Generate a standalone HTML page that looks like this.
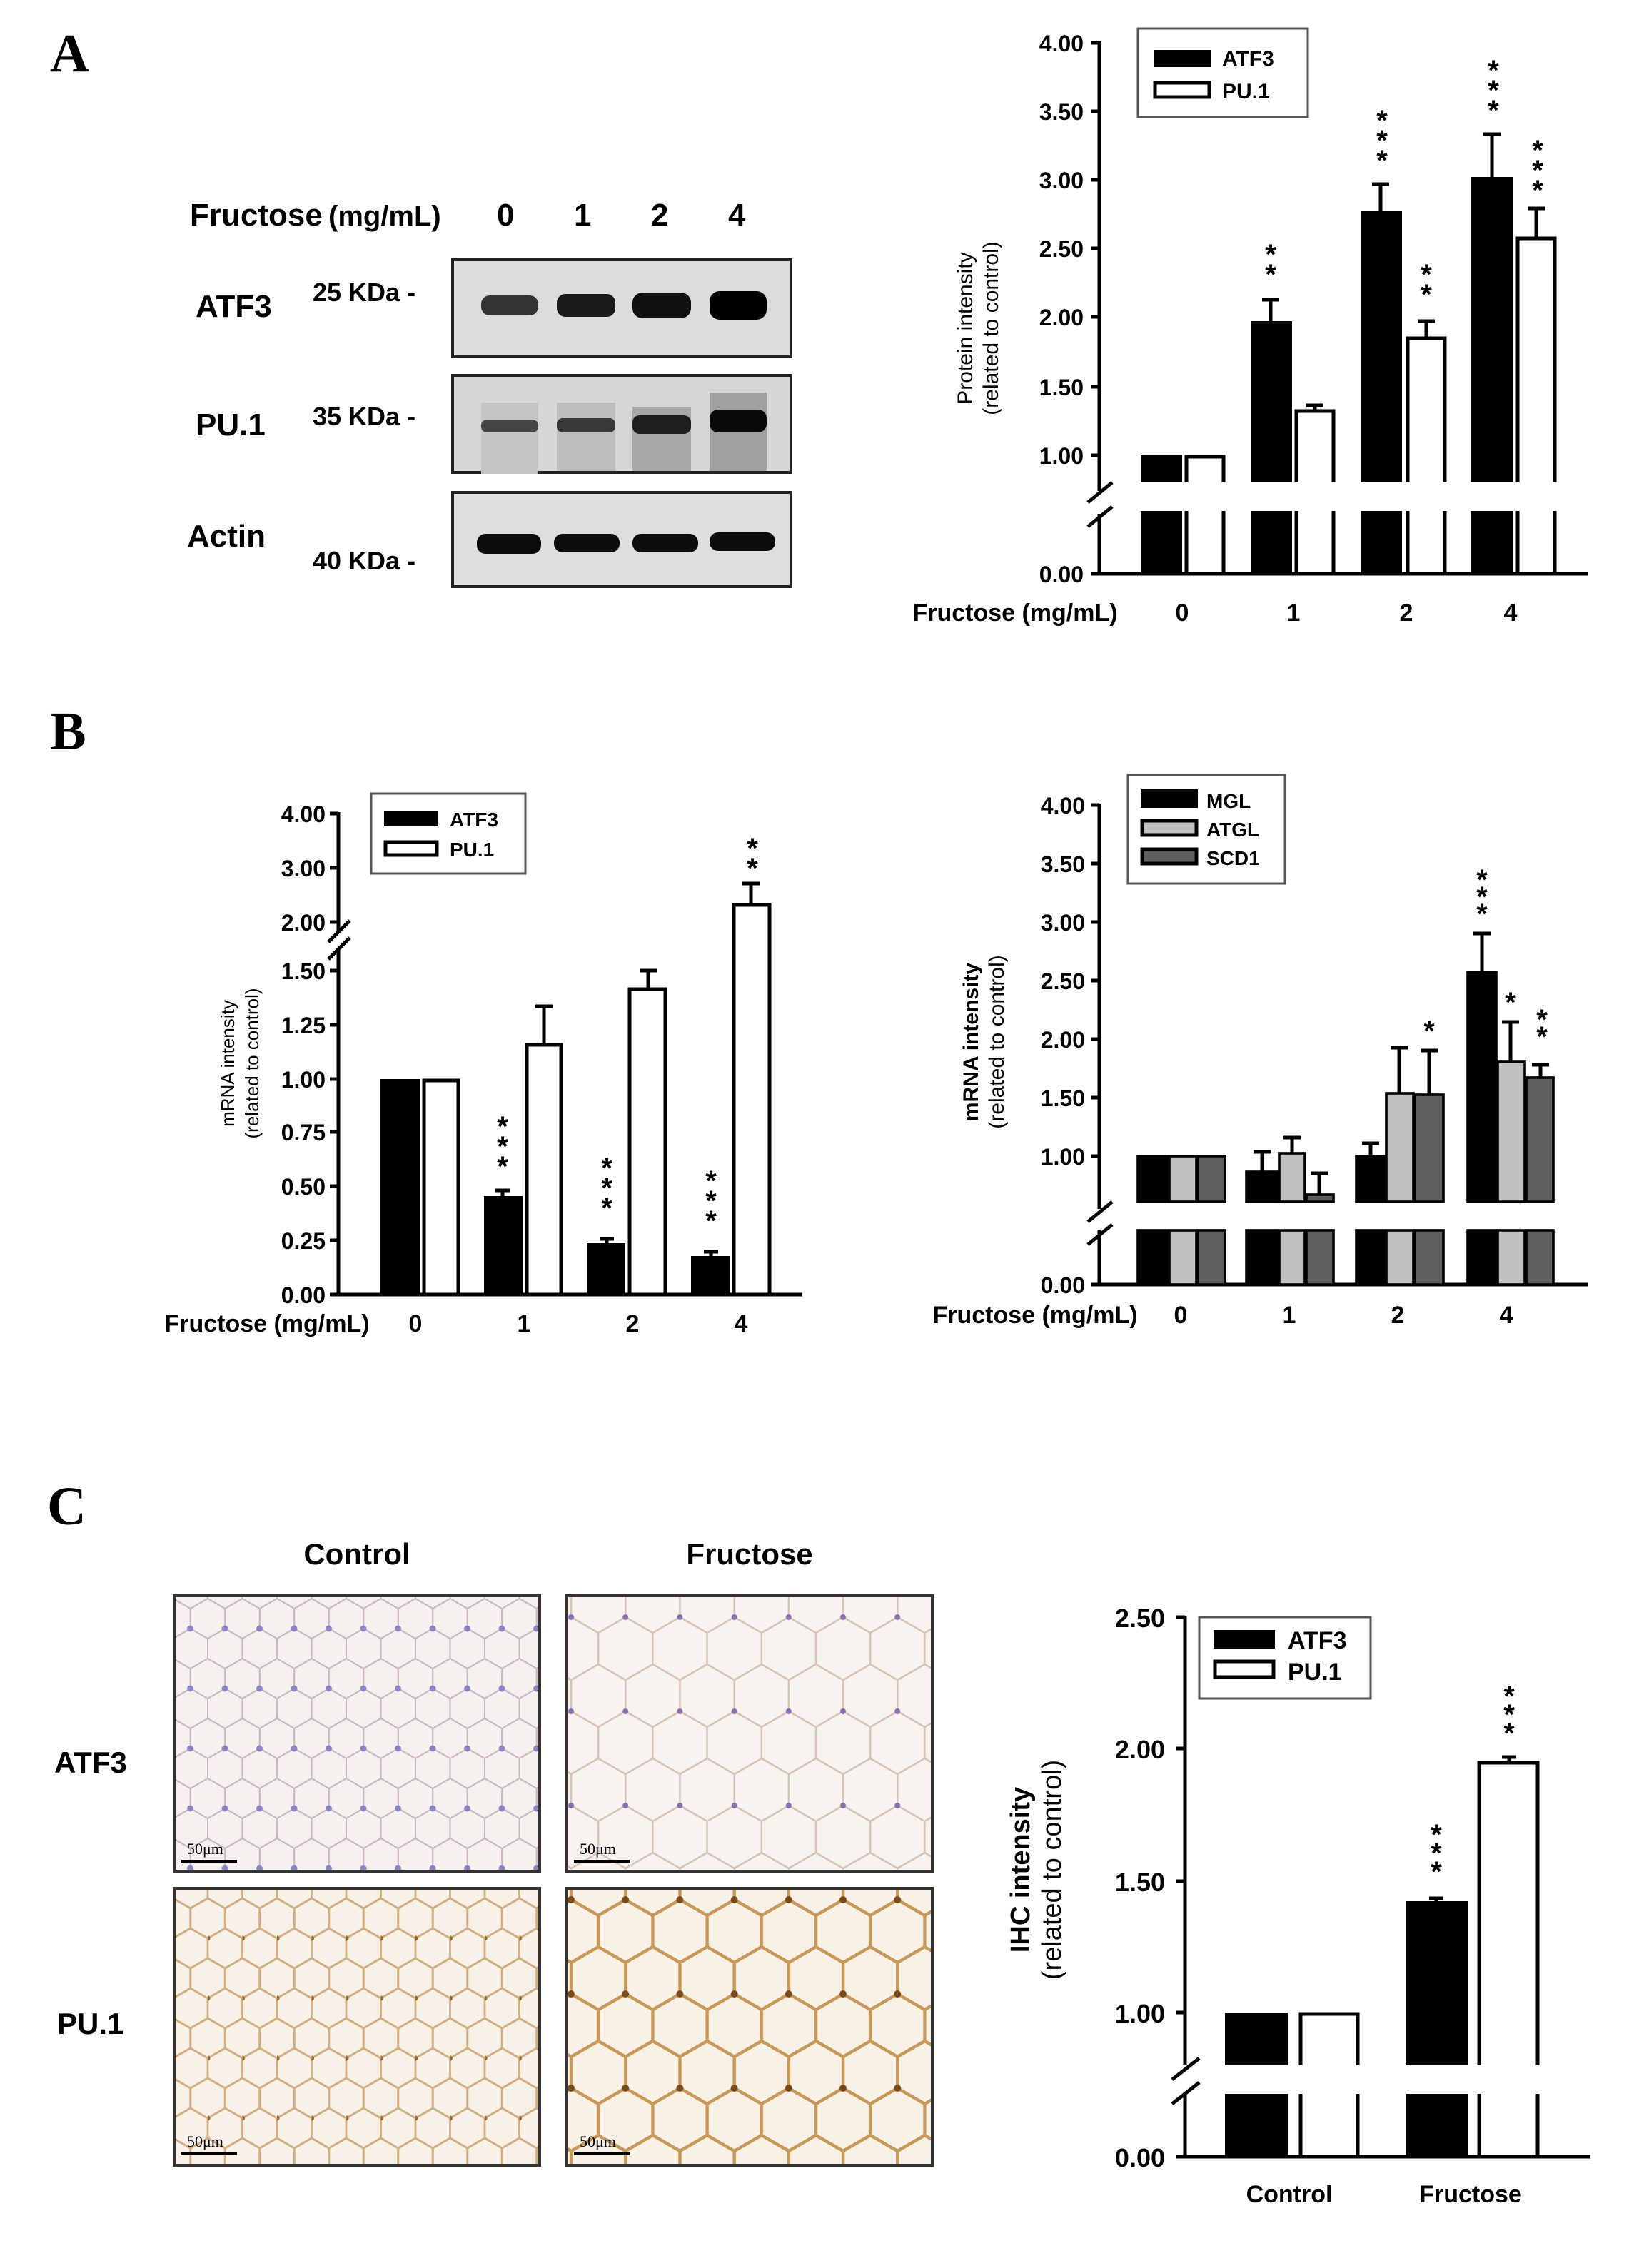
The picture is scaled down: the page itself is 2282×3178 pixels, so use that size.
<!DOCTYPE html>
<html><head><meta charset="utf-8"><style>
html,body{margin:0;padding:0;background:#fff}
svg{display:block}
text{font-family:"Liberation Sans",sans-serif}
.t{font-size:16px;font-weight:bold}
.s{font-size:20px;font-weight:bold}
</style></head><body>
<svg width="2282" height="3178" viewBox="0 0 1141 1589" xmlns="http://www.w3.org/2000/svg">
<defs>
<pattern id="p1" width="24.25" height="42" patternUnits="userSpaceOnUse">
<rect width="24.25" height="42" fill="#f5f1ef"/>
<g fill="none" stroke="#c8b8c0" stroke-width="1">
<polygon points="12.12,7 0,14 -12.12,7 -12.12,-7 0,-14 12.12,-7"/>
<polygon transform="translate(24.25,0)" points="12.12,7 0,14 -12.12,7 -12.12,-7 0,-14 12.12,-7"/>
<polygon transform="translate(12.12,21)" points="12.12,7 0,14 -12.12,7 -12.12,-7 0,-14 12.12,-7"/>
<polygon transform="translate(0,42)" points="12.12,7 0,14 -12.12,7 -12.12,-7 0,-14 12.12,-7"/>
<polygon transform="translate(24.25,42)" points="12.12,7 0,14 -12.12,7 -12.12,-7 0,-14 12.12,-7"/>
</g>
<circle cx="12" cy="7" r="2.2" fill="#8a84c8"/>
</pattern>
<pattern id="p2" width="38.1" height="66" patternUnits="userSpaceOnUse">
<rect width="38.1" height="66" fill="#f7f3ef"/>
<g fill="none" stroke="#d6c2b6" stroke-width="1.2">
<polygon points="19.05,11 0,22 -19.05,11 -19.05,-11 0,-22 19.05,-11"/>
<polygon transform="translate(38.1,0)" points="19.05,11 0,22 -19.05,11 -19.05,-11 0,-22 19.05,-11"/>
<polygon transform="translate(19.05,33)" points="19.05,11 0,22 -19.05,11 -19.05,-11 0,-22 19.05,-11"/>
<polygon transform="translate(0,66)" points="19.05,11 0,22 -19.05,11 -19.05,-11 0,-22 19.05,-11"/>
<polygon transform="translate(38.1,66)" points="19.05,11 0,22 -19.05,11 -19.05,-11 0,-22 19.05,-11"/>
</g>
<circle cx="19" cy="11" r="2" fill="#8a70b0"/>
</pattern>
<pattern id="p3" width="24.25" height="42" patternUnits="userSpaceOnUse">
<rect width="24.25" height="42" fill="#f7f1e8"/>
<g fill="none" stroke="#d2ad80" stroke-width="1.4">
<polygon points="12.12,7 0,14 -12.12,7 -12.12,-7 0,-14 12.12,-7"/>
<polygon transform="translate(24.25,0)" points="12.12,7 0,14 -12.12,7 -12.12,-7 0,-14 12.12,-7"/>
<polygon transform="translate(12.12,21)" points="12.12,7 0,14 -12.12,7 -12.12,-7 0,-14 12.12,-7"/>
<polygon transform="translate(0,42)" points="12.12,7 0,14 -12.12,7 -12.12,-7 0,-14 12.12,-7"/>
<polygon transform="translate(24.25,42)" points="12.12,7 0,14 -12.12,7 -12.12,-7 0,-14 12.12,-7"/>
</g>
<circle cx="0" cy="14" r="1.8" fill="#9a6a30"/>
</pattern>
<pattern id="p4" width="38.1" height="66" patternUnits="userSpaceOnUse">
<rect width="38.1" height="66" fill="#f8f1e6"/>
<g fill="none" stroke="#c99858" stroke-width="2.2">
<polygon points="19.05,11 0,22 -19.05,11 -19.05,-11 0,-22 19.05,-11"/>
<polygon transform="translate(38.1,0)" points="19.05,11 0,22 -19.05,11 -19.05,-11 0,-22 19.05,-11"/>
<polygon transform="translate(19.05,33)" points="19.05,11 0,22 -19.05,11 -19.05,-11 0,-22 19.05,-11"/>
<polygon transform="translate(0,66)" points="19.05,11 0,22 -19.05,11 -19.05,-11 0,-22 19.05,-11"/>
<polygon transform="translate(38.1,66)" points="19.05,11 0,22 -19.05,11 -19.05,-11 0,-22 19.05,-11"/>
</g>
<circle cx="19" cy="11" r="2.5" fill="#7a4a18"/>
</pattern>
</defs>

<!-- ===== Panel A ===== -->
<text x="35" y="50" font-family="Liberation Serif,serif" font-size="38" font-weight="bold" style="font-family:'Liberation Serif',serif">A</text>
<text x="133" y="158" font-size="22" font-weight="bold">Fructose</text>
<text x="230" y="158" font-size="20" font-weight="bold">(mg/mL)</text>
<text x="348" y="158" font-size="22" font-weight="bold">0</text>
<text x="402" y="158" font-size="22" font-weight="bold">1</text>
<text x="456" y="158" font-size="22" font-weight="bold">2</text>
<text x="510" y="158" font-size="22" font-weight="bold">4</text>
<text x="137" y="222" font-size="22" font-weight="bold">ATF3</text>
<text x="219" y="211" font-size="18" font-weight="bold">25 KDa -</text>
<text x="137" y="305" font-size="22" font-weight="bold">PU.1</text>
<text x="219" y="298" font-size="18" font-weight="bold">35 KDa -</text>
<text x="131" y="383" font-size="22" font-weight="bold">Actin</text>
<text x="219" y="399" font-size="18" font-weight="bold">40 KDa -</text>
<rect x="317" y="182" width="237" height="68" fill="#dcdcdc" stroke="#222" stroke-width="2"/>
<g fill="#111">
<rect x="337" y="207" width="40" height="14" rx="6" fill="#333"/>
<rect x="390" y="206" width="41" height="16" rx="6" fill="#1a1a1a"/>
<rect x="443" y="205" width="41" height="18" rx="7"/>
<rect x="497" y="204" width="40" height="20" rx="7" fill="#000"/>
</g>
<rect x="317" y="263" width="237" height="68" fill="#d6d6d6" stroke="#222" stroke-width="2"/>
<g>
<rect x="337" y="282" width="40" height="50" fill="#c4c4c4"/>
<rect x="390" y="282" width="41" height="48" fill="#bdbdbd"/>
<rect x="443" y="285" width="41" height="45" fill="#a8a8a8"/>
<rect x="497" y="275" width="40" height="55" fill="#a0a0a0"/>
<rect x="337" y="294" width="40" height="9" rx="4" fill="#444"/>
<rect x="390" y="293" width="41" height="10" rx="4" fill="#383838"/>
<rect x="443" y="291" width="41" height="13" rx="5" fill="#1e1e1e"/>
<rect x="497" y="287" width="40" height="16" rx="6" fill="#0a0a0a"/>
</g>
<rect x="317" y="345" width="237" height="66" fill="#dedede" stroke="#222" stroke-width="2"/>
<g fill="#0d0d0d">
<rect x="334" y="374" width="45" height="14" rx="6"/>
<rect x="388" y="374" width="46" height="13" rx="6"/>
<rect x="443" y="374" width="46" height="13" rx="6"/>
<rect x="497" y="373" width="46" height="13" rx="6"/>
</g>

<!-- Chart A -->
<g stroke="#000" stroke-width="2.5" fill="none">
<line x1="770" y1="29" x2="770" y2="344"/>
<line x1="770" y1="360" x2="770" y2="403"/>
<line x1="762" y1="352" x2="779" y2="338"/>
<line x1="762" y1="369" x2="779" y2="355"/>
<line x1="769" y1="402" x2="1112" y2="402"/>
<line x1="764" y1="30" x2="770" y2="30"/><line x1="764" y1="78" x2="770" y2="78"/><line x1="764" y1="126" x2="770" y2="126"/><line x1="764" y1="174" x2="770" y2="174"/><line x1="764" y1="222" x2="770" y2="222"/><line x1="764" y1="271" x2="770" y2="271"/><line x1="764" y1="319" x2="770" y2="319"/><line x1="764" y1="402" x2="770" y2="402"/>
</g>
<g class="t" text-anchor="end">
<text x="759" y="36">4.00</text><text x="759" y="84">3.50</text><text x="759" y="132">3.00</text><text x="759" y="180">2.50</text><text x="759" y="228">2.00</text><text x="759" y="277">1.50</text><text x="759" y="325">1.00</text><text x="759" y="408">0.00</text>
</g>
<g fill="#000">
<rect x="799" y="319" width="29" height="19"/><rect x="799" y="358" width="29" height="44"/>
<rect x="876" y="225" width="29" height="113"/><rect x="876" y="358" width="29" height="44"/>
<rect x="953" y="148" width="29" height="190"/><rect x="953" y="358" width="29" height="44"/>
<rect x="1030" y="124" width="30" height="214"/><rect x="1030" y="358" width="30" height="44"/>
</g>
<g stroke="#000" stroke-width="2.5" fill="none">
<path d="M831,338 V320 H857 V338 M831,358 V402 M857,358 V402"/>
<path d="M908,338 V288 H934 V338 M908,358 V402 M934,358 V402"/>
<path d="M986,338 V237 H1012 V338 M986,358 V402 M1012,358 V402"/>
<path d="M1063,338 V167 H1089 V338 M1063,358 V402 M1089,358 V402"/>
<path d="M890,225 V210 M884,210 H896"/>
<path d="M967,148 V129 M961,129 H973"/>
<path d="M1045,124 V94 M1039,94 H1051"/>
<path d="M921,288 V284 M915,284 H927"/>
<path d="M999,237 V225 M993,225 H1005"/>
<path d="M1076,167 V146 M1070,146 H1082"/>
</g>
<g class="s" text-anchor="middle">
<text x="890" y="185">*</text><text x="890" y="199">*</text>
<text x="968" y="91">*</text><text x="968" y="105">*</text><text x="968" y="119">*</text>
<text x="999" y="199">*</text><text x="999" y="213">*</text>
<text x="1046" y="56">*</text><text x="1046" y="70">*</text><text x="1046" y="84">*</text>
<text x="1077" y="112">*</text><text x="1077" y="126">*</text><text x="1077" y="140">*</text>
</g>
<rect x="797" y="20" width="119" height="62" fill="#fff" stroke="#555" stroke-width="1.5"/>
<rect x="808" y="35" width="40" height="12" fill="#000"/>
<rect x="809" y="58" width="38" height="10" fill="#fff" stroke="#000" stroke-width="2.5"/>
<text x="856" y="46" font-size="15" font-weight="bold">ATF3</text>
<text x="856" y="69" font-size="15" font-weight="bold">PU.1</text>
<text transform="translate(681,230) rotate(-90)" text-anchor="middle" font-size="15">Protein intensity</text>
<text transform="translate(699,230) rotate(-90)" text-anchor="middle" font-size="15">(related to control)</text>
<g font-size="17" font-weight="bold" text-anchor="middle">
<text x="711" y="435">Fructose (mg/mL)</text>
<text x="828" y="435">0</text><text x="906" y="435">1</text><text x="985" y="435">2</text><text x="1058" y="435">4</text>
</g>

<!-- ===== Panel B ===== -->
<text x="35" y="525" font-size="38" font-weight="bold" style="font-family:'Liberation Serif',serif">B</text>
<!-- B left -->
<g stroke="#000" stroke-width="2.5" fill="none">
<line x1="237" y1="569" x2="237" y2="652"/>
<line x1="237" y1="665" x2="237" y2="908"/>
<line x1="230" y1="660" x2="245" y2="645"/>
<line x1="230" y1="672" x2="245" y2="657"/>
<line x1="236" y1="907" x2="562" y2="907"/>
<line x1="231" y1="570" x2="237" y2="570"/><line x1="231" y1="608" x2="237" y2="608"/><line x1="231" y1="646" x2="237" y2="646"/>
<line x1="231" y1="680" x2="237" y2="680"/><line x1="231" y1="718" x2="237" y2="718"/><line x1="231" y1="756" x2="237" y2="756"/><line x1="231" y1="793" x2="237" y2="793"/><line x1="231" y1="831" x2="237" y2="831"/><line x1="231" y1="869" x2="237" y2="869"/><line x1="231" y1="907" x2="237" y2="907"/>
</g>
<g class="t" text-anchor="end">
<text x="228" y="576">4.00</text><text x="228" y="614">3.00</text><text x="228" y="652">2.00</text>
<text x="228" y="686">1.50</text><text x="228" y="724">1.25</text><text x="228" y="762">1.00</text><text x="228" y="799">0.75</text><text x="228" y="837">0.50</text><text x="228" y="875">0.25</text><text x="228" y="913">0.00</text>
</g>
<g fill="#000">
<rect x="266" y="756" width="28" height="151"/>
<rect x="339" y="838" width="27" height="69"/>
<rect x="411" y="871" width="27" height="36"/>
<rect x="484" y="880" width="27" height="27"/>
</g>
<g stroke="#000" stroke-width="2.5" fill="none">
<path d="M297,907 V757 H321 V907"/>
<path d="M369,907 V732 H393 V907"/>
<path d="M441,907 V693 H466 V907"/>
<path d="M514,907 V634 H539 V907"/>
<path d="M352,838 V834 M347,834 H357"/>
<path d="M425,871 V868 M420,868 H430"/>
<path d="M498,880 V877 M493,877 H503"/>
<path d="M381,732 V705 M375,705 H387"/>
<path d="M454,693 V680 M448,680 H460"/>
<path d="M526,634 V619 M520,619 H532"/>
</g>
<g class="s" text-anchor="middle">
<text x="352" y="796">*</text><text x="352" y="810">*</text><text x="352" y="824">*</text>
<text x="425" y="825">*</text><text x="425" y="839">*</text><text x="425" y="853">*</text>
<text x="498" y="834">*</text><text x="498" y="848">*</text><text x="498" y="862">*</text>
<text x="527" y="601">*</text><text x="527" y="615">*</text>
</g>
<rect x="260" y="556" width="108" height="56" fill="#fff" stroke="#555" stroke-width="1.5"/>
<rect x="269" y="568" width="38" height="11" fill="#000"/>
<rect x="270" y="590" width="36" height="9" fill="#fff" stroke="#000" stroke-width="2.5"/>
<text x="315" y="579" font-size="14" font-weight="bold">ATF3</text>
<text x="315" y="600" font-size="14" font-weight="bold">PU.1</text>
<text transform="translate(164,745) rotate(-90)" text-anchor="middle" font-size="13">mRNA intensity</text>
<text transform="translate(181,745) rotate(-90)" text-anchor="middle" font-size="13">(related to control)</text>
<g font-size="17" font-weight="bold" text-anchor="middle">
<text x="187" y="933">Fructose (mg/mL)</text>
<text x="291" y="933">0</text><text x="367" y="933">1</text><text x="443" y="933">2</text><text x="519" y="933">4</text>
</g>

<!-- B right -->
<g stroke="#000" stroke-width="2.5" fill="none">
<line x1="770" y1="563" x2="770" y2="847"/>
<line x1="770" y1="862" x2="770" y2="901"/>
<line x1="762" y1="856" x2="779" y2="842"/>
<line x1="762" y1="872" x2="779" y2="858"/>
<line x1="769" y1="900" x2="1112" y2="900"/>
<line x1="764" y1="564" x2="770" y2="564"/><line x1="764" y1="605" x2="770" y2="605"/><line x1="764" y1="646" x2="770" y2="646"/><line x1="764" y1="687" x2="770" y2="687"/><line x1="764" y1="728" x2="770" y2="728"/><line x1="764" y1="769" x2="770" y2="769"/><line x1="764" y1="810" x2="770" y2="810"/><line x1="764" y1="900" x2="770" y2="900"/>
</g>
<g class="t" text-anchor="end">
<text x="760" y="570">4.00</text><text x="760" y="611">3.50</text><text x="760" y="652">3.00</text><text x="760" y="693">2.50</text><text x="760" y="734">2.00</text><text x="760" y="775">1.50</text><text x="760" y="816">1.00</text><text x="760" y="906">0.00</text>
</g>
<g stroke="#000" stroke-width="1.8">
<!-- group 0 -->
<rect x="797" y="810" width="21" height="32" fill="#000"/>
<rect x="819" y="810" width="19" height="32" fill="#c0c0c0"/>
<rect x="839" y="810" width="19" height="32" fill="#5e5e5e"/>
<!-- group 1 -->
<rect x="873" y="821" width="22" height="21" fill="#000"/>
<rect x="896" y="808" width="18" height="34" fill="#c0c0c0"/>
<rect x="915" y="837" width="19" height="5" fill="#5e5e5e"/>
<!-- group 2 -->
<rect x="950" y="810" width="20" height="32" fill="#000"/>
<rect x="971" y="766" width="19" height="76" fill="#c0c0c0"/>
<rect x="991" y="767" width="20" height="75" fill="#5e5e5e"/>
<!-- group 4 -->
<rect x="1028" y="681" width="20" height="161" fill="#000"/>
<rect x="1049" y="744" width="19" height="98" fill="#c0c0c0"/>
<rect x="1069" y="755" width="19" height="87" fill="#5e5e5e"/>
<!-- lower -->
<rect x="797" y="862" width="21" height="38" fill="#000"/><rect x="819" y="862" width="19" height="38" fill="#c0c0c0"/><rect x="839" y="862" width="19" height="38" fill="#5e5e5e"/>
<rect x="873" y="862" width="22" height="38" fill="#000"/><rect x="896" y="862" width="18" height="38" fill="#c0c0c0"/><rect x="915" y="862" width="19" height="38" fill="#5e5e5e"/>
<rect x="950" y="862" width="20" height="38" fill="#000"/><rect x="971" y="862" width="19" height="38" fill="#c0c0c0"/><rect x="991" y="862" width="20" height="38" fill="#5e5e5e"/>
<rect x="1028" y="862" width="20" height="38" fill="#000"/><rect x="1049" y="862" width="19" height="38" fill="#c0c0c0"/><rect x="1069" y="862" width="19" height="38" fill="#5e5e5e"/>
</g>
<g stroke="#000" stroke-width="2.5" fill="none">
<path d="M884,821 V807 M878,807 H890"/>
<path d="M905,808 V797 M899,797 H911"/>
<path d="M924,837 V822 M918,822 H930"/>
<path d="M960,810 V801 M954,801 H966"/>
<path d="M980,766 V734 M974,734 H986"/>
<path d="M1001,767 V736 M995,736 H1007"/>
<path d="M1038,681 V654 M1032,654 H1044"/>
<path d="M1058,744 V716 M1052,716 H1064"/>
<path d="M1079,755 V746 M1073,746 H1085"/>
</g>
<g class="s" text-anchor="middle">
<text x="1038" y="623">*</text><text x="1038" y="635">*</text><text x="1038" y="647">*</text>
<text x="1058" y="709">*</text>
<text x="1001" y="729">*</text>
<text x="1080" y="721">*</text><text x="1080" y="733">*</text>
</g>
<rect x="790" y="543" width="110" height="76" fill="#fff" stroke="#555" stroke-width="1.5"/>
<rect x="800" y="554" width="38" height="11" fill="#000" stroke="#000" stroke-width="2"/>
<rect x="800" y="575" width="38" height="10" fill="#c0c0c0" stroke="#000" stroke-width="2.5"/>
<rect x="800" y="595" width="38" height="10" fill="#5e5e5e" stroke="#000" stroke-width="2.5"/>
<text x="845" y="566" font-size="14" font-weight="bold">MGL</text>
<text x="845" y="586" font-size="14" font-weight="bold">ATGL</text>
<text x="845" y="606" font-size="14" font-weight="bold">SCD1</text>
<text transform="translate(685,730) rotate(-90)" text-anchor="middle" font-size="15" font-weight="bold">mRNA intensity</text>
<text transform="translate(703,730) rotate(-90)" text-anchor="middle" font-size="15">(related to control)</text>
<g font-size="17" font-weight="bold" text-anchor="middle">
<text x="725" y="927">Fructose (mg/mL)</text>
<text x="827" y="927">0</text><text x="903" y="927">1</text><text x="979" y="927">2</text><text x="1055" y="927">4</text>
</g>

<!-- ===== Panel C ===== -->
<text x="33" y="1068" font-size="38" font-weight="bold" style="font-family:'Liberation Serif',serif">C</text>
<text x="250" y="1096" text-anchor="middle" font-size="21" font-weight="bold">Control</text>
<text x="525" y="1096" text-anchor="middle" font-size="21" font-weight="bold">Fructose</text>
<text x="38" y="1242" font-size="21" font-weight="bold">ATF3</text>
<text x="40" y="1425" font-size="21" font-weight="bold">PU.1</text>
<rect x="122" y="1118" width="256" height="193" fill="url(#p1)" stroke="#333" stroke-width="2"/>
<rect x="397" y="1118" width="256" height="193" fill="url(#p2)" stroke="#333" stroke-width="2"/>
<rect x="122" y="1323" width="256" height="194" fill="url(#p3)" stroke="#333" stroke-width="2"/>
<rect x="397" y="1323" width="256" height="194" fill="url(#p4)" stroke="#333" stroke-width="2"/>
<g font-size="11" style="font-family:'Liberation Serif',serif">
<text x="131" y="1299" style="font-family:'Liberation Serif',serif">50μm</text>
<text x="406" y="1299" style="font-family:'Liberation Serif',serif">50μm</text>
<text x="131" y="1504" style="font-family:'Liberation Serif',serif">50μm</text>
<text x="406" y="1504" style="font-family:'Liberation Serif',serif">50μm</text>
</g>
<g stroke="#000" stroke-width="2">
<line x1="127" y1="1304" x2="166" y2="1304"/><line x1="402" y1="1304" x2="441" y2="1304"/>
<line x1="127" y1="1509" x2="166" y2="1509"/><line x1="402" y1="1509" x2="441" y2="1509"/>
</g>

<!-- Chart C -->
<g stroke="#000" stroke-width="2.5" fill="none">
<line x1="830" y1="1132" x2="830" y2="1447"/>
<line x1="830" y1="1468" x2="830" y2="1512"/>
<line x1="821" y1="1457" x2="840" y2="1442"/>
<line x1="821" y1="1474" x2="840" y2="1459"/>
<line x1="829" y1="1511" x2="1114" y2="1511"/>
<line x1="824" y1="1133" x2="830" y2="1133"/><line x1="824" y1="1225" x2="830" y2="1225"/><line x1="824" y1="1318" x2="830" y2="1318"/><line x1="824" y1="1410" x2="830" y2="1410"/><line x1="824" y1="1511" x2="830" y2="1511"/>
</g>
<g font-size="18" font-weight="bold" text-anchor="end">
<text x="816" y="1140">2.50</text><text x="816" y="1232">2.00</text><text x="816" y="1325">1.50</text><text x="816" y="1417">1.00</text><text x="816" y="1518">0.00</text>
</g>
<g fill="#000">
<rect x="858" y="1410" width="44" height="37"/><rect x="858" y="1467" width="44" height="44"/>
<rect x="985" y="1332" width="43" height="115"/><rect x="985" y="1467" width="43" height="44"/>
</g>
<g stroke="#000" stroke-width="2.5" fill="none">
<path d="M911,1447 V1411 H951 V1447 M911,1467 V1511 M951,1467 V1511"/>
<path d="M1036,1447 V1235 H1077 V1447 M1036,1467 V1511 M1077,1467 V1511"/>
<path d="M1006,1332 V1330 M1001,1330 H1011"/>
<path d="M1057,1235 V1231 M1052,1231 H1062"/>
</g>
<g class="s" text-anchor="middle">
<text x="1006" y="1292">*</text><text x="1006" y="1305">*</text><text x="1006" y="1318">*</text>
<text x="1057" y="1195">*</text><text x="1057" y="1208">*</text><text x="1057" y="1221">*</text>
</g>
<rect x="840" y="1133" width="120" height="57" fill="#fff" stroke="#555" stroke-width="1.5"/>
<rect x="850" y="1142" width="43" height="13" fill="#000"/>
<rect x="851" y="1164" width="41" height="11" fill="#fff" stroke="#000" stroke-width="2.5"/>
<text x="902" y="1155" font-size="17" font-weight="bold">ATF3</text>
<text x="902" y="1177" font-size="17" font-weight="bold">PU.1</text>
<text transform="translate(721,1310) rotate(-90)" text-anchor="middle" font-size="19" font-weight="bold">IHC intensity</text>
<text transform="translate(743,1310) rotate(-90)" text-anchor="middle" font-size="19">(related to control)</text>
<text x="903" y="1543" text-anchor="middle" font-size="17" font-weight="bold">Control</text>
<text x="1030" y="1543" text-anchor="middle" font-size="17" font-weight="bold">Fructose</text>
</svg>
</body></html>
